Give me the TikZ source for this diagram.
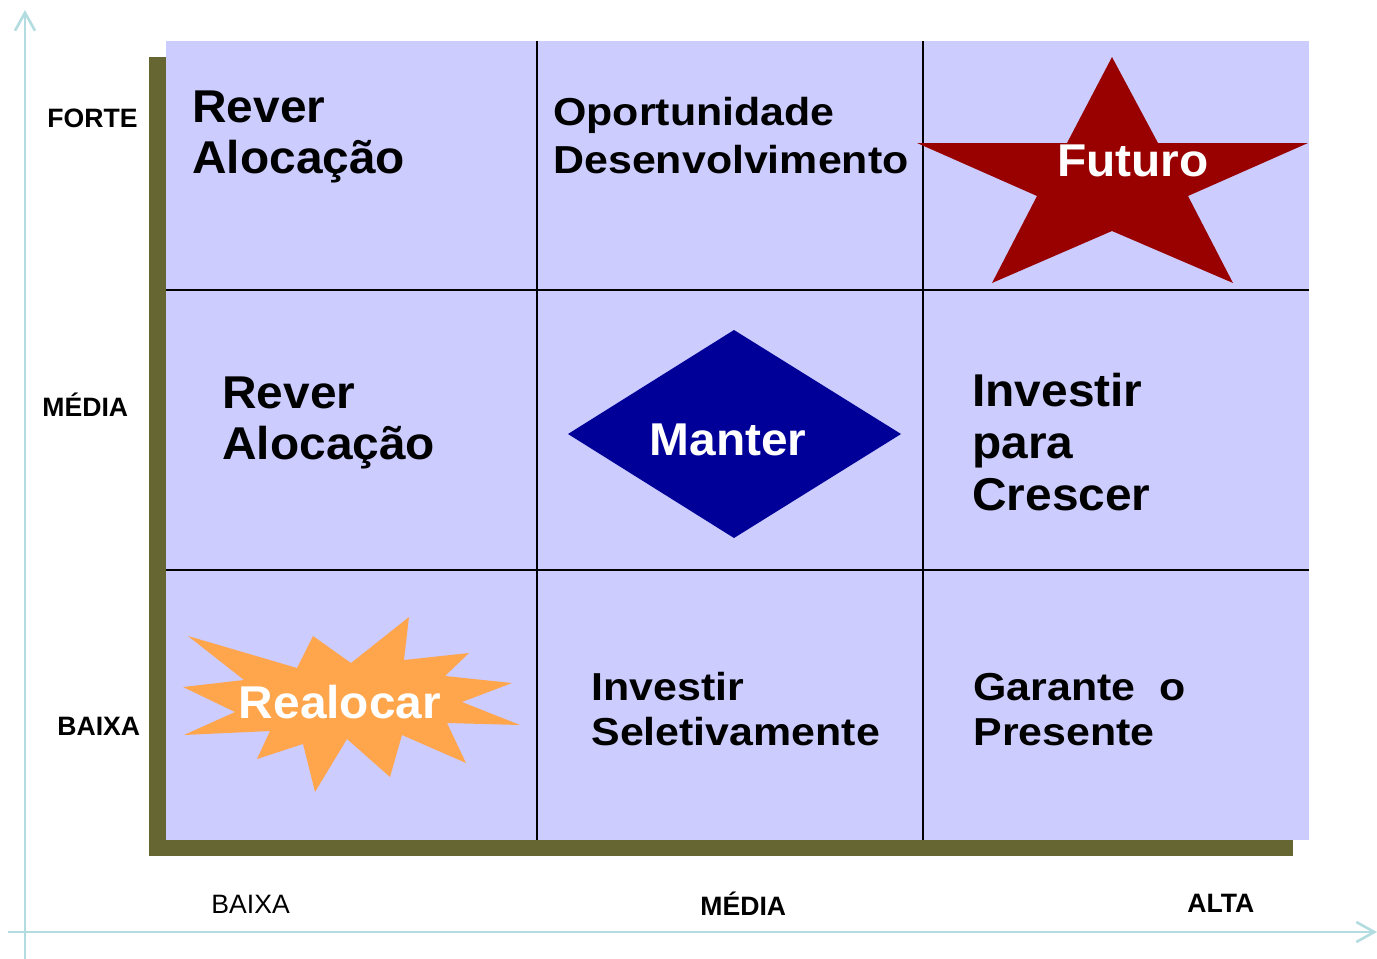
\documentclass[tikz,border=0pt]{standalone}
\usepackage{fontspec}
\setmainfont{Liberation Sans}
\newfontfamily\widesans[FakeStretch=1.1]{Liberation Sans}
\newfontfamily\bigsans[FakeStretch=1.04]{Liberation Sans}
\usetikzlibrary{arrows.meta}
\definecolor{lav}{HTML}{CCCCFF}
\definecolor{olive}{HTML}{666633}
\definecolor{starred}{HTML}{990000}
\definecolor{navy}{HTML}{000099}
\definecolor{burst}{HTML}{FFA64D}
\definecolor{axiscol}{RGB}{178,220,224}
\tikzset{
  bigtxt/.style={font=\bigsans\bfseries\fontsize{23pt}{25pt}\selectfont, inner sep=0pt, anchor=base west},
  midtxt/.style={font=\widesans\bfseries\fontsize{19.5pt}{22pt}\selectfont, inner sep=0pt, anchor=base west},
  whitetxt/.style={font=\bigsans\bfseries\fontsize{23pt}{25pt}\selectfont, text=white, inner sep=0pt, anchor=base},
  axlbl/.style={font=\bfseries\fontsize{13.3pt}{15pt}\selectfont, inner sep=0pt, anchor=base west},
  axlblr/.style={font=\fontsize{13.3pt}{15pt}\selectfont, inner sep=0pt, anchor=base west},
  gridline/.style={draw=black, line width=1pt},
  axisline/.style={draw=axiscol, line width=1.3pt, -{Straight Barb[length=9pt,width=10pt,line width=1.3pt]}}
}
\begin{document}
\begin{tikzpicture}[x=0.5pt,y=-0.5pt]
\useasboundingbox (0,0) rectangle (1377,959);
% axes
\coordinate (ybot) at (25,959);
\coordinate (ytop) at (25,10);
\coordinate (xleft) at (8,932);
\coordinate (xright) at (1377,932);
\draw[axisline] (ybot) -- (ytop);
\draw[axisline] (xleft) -- (xright);
% shadow and matrix
\fill[olive] (149,57) rectangle (1293,856);
\fill[lav] (166,41) rectangle (1309,840);
\draw[gridline] (537,41) -- (537,840);
\draw[gridline] (923,41) -- (923,840);
\draw[gridline] (166,290) -- (1309,290);
\draw[gridline] (166,570) -- (1309,570);
% star
\fill[starred] (1112,57) -- (1158,143) -- (1308,143) -- (1188,196) -- (1233,283)
  -- (1112,231) -- (992,283) -- (1037,196) -- (917,143) -- (1067,143) -- cycle;
% diamond
\fill[navy] (734,330) -- (901,434) -- (734,538) -- (568,434) -- cycle;
% starburst
\fill[burst] (188,636) -- (297,668) -- (313,636) -- (351,663) -- (409,617) -- (404,660)
  -- (469,653) -- (445,676) -- (512,683) -- (462,702) -- (520,725) -- (447,723)
  -- (466,763) -- (402,735) -- (390,777) -- (347,739) -- (315,792) -- (303,744)
  -- (257,759) -- (270,731) -- (184,735) -- (235,712) -- (183,687) -- (244,680) -- cycle;
% cell texts
\node[bigtxt] (c1a) at (192,122) {Rever};
\node[bigtxt] (c1b) at (192,173) {Alocação};
\node[midtxt] (c2a) at (553,125) {Oportunidade};
\node[midtxt] (c2b) at (553,173) {Desenvolvimento};
\node[whitetxt] (c3) at (1133,176) {Futuro};
\node[bigtxt] (c4a) at (222,408) {Rever};
\node[bigtxt] (c4b) at (222,459) {Alocação};
\node[whitetxt] (c5) at (728,455) {Manter};
\node[bigtxt] (c6a) at (972,406) {Investir};
\node[bigtxt] (c6b) at (972,458) {para};
\node[bigtxt] (c6c) at (972,510) {Crescer};
\node[whitetxt] (c7) at (340,718) {Realocar};
\node[midtxt] (c8a) at (591,700) {Investir};
\node[midtxt] (c8b) at (591,745) {Seletivamente};
\node[midtxt] (c9a) at (973,700) {Garante\ \ o};
\node[midtxt] (c9b) at (973,745) {Presente};
% axis labels
\node[axlbl] (yl1) at (47,127) {FORTE};
\node[axlbl] (yl2) at (42,416) {MÉDIA};
\node[axlbl] (yl3) at (57,735) {BAIXA};
\node[axlblr] (xl1) at (211,913) {BAIXA};
\node[axlbl] (xl2) at (700,915) {MÉDIA};
\node[axlbl] (xl3) at (1187,912) {ALTA};
\end{tikzpicture}
\end{document}
